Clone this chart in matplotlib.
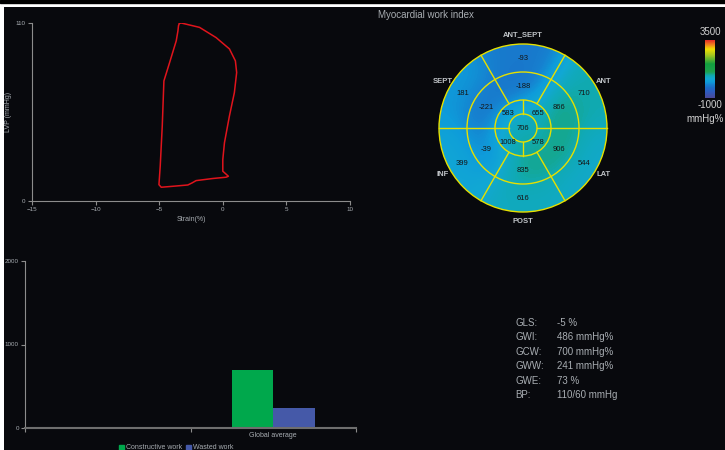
import numpy as np
import matplotlib.pyplot as plt
from matplotlib.colors import LinearSegmentedColormap, Normalize
from matplotlib.patches import Circle, Rectangle

plt.rcParams['font.family'] = ['Liberation Sans', 'DejaVu Sans']

# ---- data ----
pv_strain = [-3.4, -3.27, -1.83, -0.53, 0.52, 0.99, 1.09, 0.91, 0.52, 0.13, 0.0,
             0.0, 0.2, 0.44, 0.26, -0.79, -2.1, -2.41, -2.75, -3.92, -4.84, -5.02,
             -4.92, -4.76, -4.63, -4.18, -3.66, -3.53, -3.48, -3.4]
pv_pressure = [110, 110, 107.3, 101, 94, 86.6, 79.4, 67, 52.5, 36, 25.6,
               18.4, 17, 15.3, 14.7, 13.9, 12.6, 11.2, 9.9, 9.1, 8.5, 10.1,
               21.5, 46.3, 74.2, 85.6, 99, 105, 108.4, 110]

bar_categories = ['', 'Global average']
constructive_work = [0, 700]
wasted_work = [0, 241]

# bull's eye segment values, rings from outside in, segments counter-clockwise from 0 deg
outer_ring = [710, -93, 181, 399, 616, 544]      # 60 deg segments
middle_ring = [866, -188, -221, -39, 835, 906]   # 60 deg segments
inner_ring = [655, 583, 1008, 578]               # 90 deg segments
apex_value = 706
wall_labels = ['ANT', 'ANT_SEPT', 'SEPT', 'INF', 'POST', 'LAT']
wall_angles = [30, 90, 150, 210, 270, 330]

stat_names = ['GLS:', 'GWI:', 'GCW:', 'GWW:', 'GWE:', 'BP:']
stat_values = ['-5 %', '486 mmHg%', '700 mmHg%', '241 mmHg%', '73 %', '110/60 mmHg']

VMIN, VMAX = -1000, 3500
BG = '#08090d'
W, H = 725, 450

cmap_stops = [(-1000, '#4a4a9c'), (-550, '#2f5cc0'), (-250, '#1c6cc6'),
              (0, '#1682d0'), (200, '#0e9cda'), (450, '#12a8d4'), (700, '#10aab4'),
              (1000, '#1ea24e'), (1600, '#12a040'), (2300, '#a8c820'),
              (2750, '#f0e000'), (3100, '#f08020'), (3500, '#e41e26')]
cmap = LinearSegmentedColormap.from_list(
    'mw', [((v - VMIN) / (VMAX - VMIN), c) for v, c in cmap_stops])


def rect(x0, y0, x1, y1):
    return [x0 / W, 1 - y1 / H, (x1 - x0) / W, (y1 - y0) / H]


fig = plt.figure(figsize=(7.25, 4.5), dpi=100, facecolor='white')
fig.patches.append(Rectangle((0, 1 - 3 / H), 1, 3 / H, transform=fig.transFigure,
                             color='black', zorder=0))
bg = fig.add_axes(rect(4, 7, W, H))
bg.set_facecolor(BG)
bg.set_xticks([])
bg.set_yticks([])
for s in bg.spines.values():
    s.set_visible(False)

AX_C = '#8c8c8c'
TXT_C = '#a8adb2'


def style(ax):
    ax.set_facecolor('none')
    for k in ('top', 'right'):
        ax.spines[k].set_visible(False)
    for k in ('left', 'bottom'):
        ax.spines[k].set_color(AX_C)
    ax.tick_params(colors=AX_C, labelcolor=TXT_C, labelsize=4.5, length=3, width=0.8, pad=1.5)


# ---- PV loop ----
ax1 = fig.add_axes(rect(32, 23, 350, 201))
style(ax1)
ax1.plot(pv_strain, pv_pressure, color='#e0141c', lw=1.1)
ax1.set_xlim(-15, 10)
ax1.set_ylim(0, 110)
ax1.set_xticks([-15, -10, -5, 0, 5, 10])
ax1.set_yticks([0, 110])
ax1.set_xlabel('Strain(%)', fontsize=5, color=TXT_C)
ax1.xaxis.set_label_coords(0.5, -0.085)
ax1.set_ylabel('LVP (mmHg)', fontsize=5, color=TXT_C)
ax1.yaxis.set_label_coords(-0.063, 0.5)

# ---- bar chart ----
ax2 = fig.add_axes(rect(25, 261, 356, 428))
style(ax2)
x = np.arange(len(bar_categories))
bw = 0.25
ax2.bar(x - bw / 2, constructive_work, bw, color='#00a84c')
ax2.bar(x + bw / 2, wasted_work, bw, color='#4559a8')
ax2.set_xlim(-0.5, 1.5)
ax2.set_ylim(0, 2000)
ax2.set_yticks([0, 1000, 2000])
ax2.set_xticks([-0.5, 0.5, 1.5])
ax2.set_xticklabels(['', '', ''])
ax2.spines['bottom'].set_color('#6e6e6e')
ax2.spines['bottom'].set_linewidth(1.5)
for xi, lab in zip(x, bar_categories):
    ax2.text(xi, -45, lab, ha='center', va='top', fontsize=5, color=TXT_C)

fig.patches.append(Rectangle((119 / W, 1 - 450 / H), 5 / W, 5 / H,
                             transform=fig.transFigure, color='#00a84c'))
fig.text(126 / W, 1 - 447.5 / H, 'Constructive work', fontsize=5, color=TXT_C, va='center')
fig.patches.append(Rectangle((186 / W, 1 - 450 / H), 5 / W, 5 / H,
                             transform=fig.transFigure, color='#4559a8'))
fig.text(193 / W, 1 - 447.5 / H, 'Wasted work', fontsize=5, color=TXT_C, va='center')

# ---- bull's eye ----
fig.text(426 / W, 1 - 15 / H, 'Myocardial work index', fontsize=7, color=TXT_C,
         ha='center', va='center')
CX, CY, R = 523, 128, 84
ax3 = fig.add_axes(rect(CX - 100, CY - 100, CX + 100, CY + 100))
ax3.set_xlim(-100, 100)
ax3.set_ylim(-100, 100)
ax3.axis('off')

r1, r2, r3 = R / 6, R / 3, R * 2 / 3
g = np.arange(-100, 100) + 0.5
gx, gy = np.meshgrid(g, g)
rr = np.hypot(gx, gy)
th = np.degrees(np.arctan2(gy, gx)) % 360
field = np.where(rr < r1, apex_value,
        np.where(rr < r2, np.array(inner_ring)[(th // 90).astype(int) % 4],
        np.where(rr < r3, np.array(middle_ring)[(th // 60).astype(int) % 6],
                 np.array(outer_ring)[(th // 60).astype(int) % 6]))).astype(float)


def blur(a, s):
    n = int(3 * s)
    k = np.exp(-0.5 * (np.arange(-n, n + 1) / s) ** 2)
    k /= k.sum()
    p = np.pad(a, n, mode='edge')
    p = np.apply_along_axis(lambda v: np.convolve(v, k, mode='valid'), 0, p)
    p = np.apply_along_axis(lambda v: np.convolve(v, k, mode='valid'), 1, p)
    return p


field = blur(field, 14)
circ = Circle((0, 0), R, transform=ax3.transData)
im = ax3.imshow(field, extent=[-100, 100, -100, 100], origin='lower', cmap=cmap,
                norm=Normalize(VMIN, VMAX), interpolation='bilinear')
im.set_clip_path(circ)

YEL = '#e6e000'
for rad in (R, r3, r2, r1):
    ax3.add_patch(Circle((0, 0), rad, fill=False, ec=YEL, lw=1.0))
for a in (60, 120, 240, 300):
    t = np.radians(a)
    ax3.plot([r2 * np.cos(t), R * np.cos(t)], [r2 * np.sin(t), R * np.sin(t)], color=YEL, lw=1.0)
ax3.plot([-R, -r1], [0, 0], color=YEL, lw=1.0)
ax3.plot([r1, R], [0, 0], color=YEL, lw=1.0)
ax3.plot([0, 0], [r1, r2], color=YEL, lw=1.0)
ax3.plot([0, 0], [-r1, -r2], color=YEL, lw=1.0)


def seg_text(vals, rad, step, offset):
    for i, v in enumerate(vals):
        t = np.radians(offset + i * step)
        ax3.text(rad * np.cos(t), rad * np.sin(t), str(v), ha='center', va='center',
                 fontsize=5.5, color='#151515')


seg_text(outer_ring, 70, 60, 30)
seg_text(middle_ring, 42, 60, 30)
seg_text(inner_ring, 21, 90, 45)
ax3.text(0, 0, str(apex_value), ha='center', va='center', fontsize=5.5, color='#151515')
for lab, a in zip(wall_labels, wall_angles):
    t = np.radians(a)
    ax3.text(93 * np.cos(t), 93 * np.sin(t), lab, ha='center', va='center',
             fontsize=5.5, color='#c0c4c8', fontweight='bold')

# colour bar
ax4 = fig.add_axes(rect(705, 40, 715, 98))
ax4.imshow(np.linspace(VMIN, VMAX, 100)[:, None], origin='lower', aspect='auto',
           cmap=cmap, norm=Normalize(VMIN, VMAX))
ax4.axis('off')
fig.text(710 / W, 1 - 32 / H, '3500', fontsize=7, color='#d0d0d0', ha='center', va='center')
fig.text(710 / W, 1 - 105 / H, '-1000', fontsize=7, color='#d0d0d0', ha='center', va='center')
fig.text(724 / W, 1 - 119 / H, 'mmHg%', fontsize=7, color='#d0d0d0', ha='right', va='center')

# ---- global indices ----
for i, (n, v) in enumerate(zip(stat_names, stat_values)):
    yy = 1 - (323 + i * 14.4) / H
    fig.text(515 / W, yy, n, fontsize=7, color=TXT_C, va='center')
    fig.text(557 / W, yy, v, fontsize=7, color=TXT_C, va='center')

fig.savefig('out.png', dpi=100, facecolor=fig.get_facecolor())
